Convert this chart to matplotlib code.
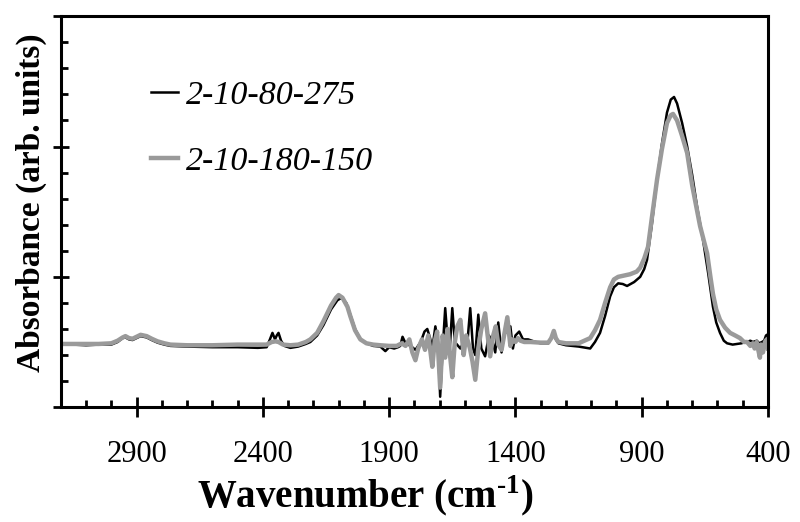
import numpy as np
import matplotlib
matplotlib.use("Agg")
import matplotlib.pyplot as plt
from matplotlib.ticker import MultipleLocator, NullFormatter

# 2-10-80-275 (black) : wavenumber / absorbance
wn_a = [3200, 3150, 3100, 3050, 3000, 2975, 2955, 2944, 2930, 2916, 2900, 2884, 2860, 2840, 2817,
        2790, 2766, 2700, 2600, 2500, 2420, 2385, 2372, 2362, 2352, 2345, 2338, 2328, 2315, 2291,
        2260, 2230, 2212, 2185, 2160, 2130, 2105, 2088, 2070, 2054, 2035, 2014, 1990, 1963, 1935,
        1915, 1900, 1880, 1865, 1856, 1847, 1835, 1815, 1796, 1775, 1760, 1749, 1738, 1729, 1717,
        1707, 1698, 1688, 1678, 1668, 1660, 1650, 1640, 1618, 1600, 1590, 1579, 1568, 1559, 1547,
        1535, 1520, 1505, 1490, 1480, 1468, 1455, 1445, 1432, 1420, 1410, 1400, 1385, 1370, 1350,
        1320, 1300, 1270, 1258, 1248, 1240, 1230, 1200, 1150, 1104, 1085, 1065, 1045, 1025, 1010,
        993, 975, 958, 930, 906, 890, 879, 860, 839, 820, 800, 785, 772, 760, 740,
        720, 700, 681, 657, 637, 618, 605, 590, 575, 562, 540, 523, 505, 490, 483,
        470, 460, 444, 435, 424, 415, 408, 400]
abs_a = [0.48, 0.48, 0.475, 0.48, 0.48, 0.50, 0.53, 0.535, 0.52, 0.515, 0.53, 0.545, 0.535, 0.515, 0.495,
         0.48, 0.47, 0.465, 0.46, 0.46, 0.455, 0.46, 0.52, 0.57, 0.52, 0.55, 0.57, 0.51, 0.47, 0.455,
         0.465, 0.485, 0.50, 0.55, 0.63, 0.75, 0.82, 0.84, 0.80, 0.71, 0.60, 0.52, 0.49, 0.47, 0.465,
         0.43, 0.46, 0.45, 0.46, 0.47, 0.54, 0.49, 0.47, 0.44, 0.50, 0.58, 0.60, 0.53, 0.45, 0.62,
         0.50, 0.08, 0.45, 0.76, 0.50, 0.45, 0.76, 0.50, 0.45, 0.52, 0.50, 0.76, 0.45, 0.40, 0.71,
         0.45, 0.39, 0.55, 0.50, 0.42, 0.65, 0.42, 0.55, 0.60, 0.62, 0.45, 0.55, 0.58, 0.52, 0.52,
         0.50, 0.49, 0.49, 0.53, 0.58, 0.52, 0.49, 0.475, 0.465, 0.45, 0.50, 0.57, 0.70, 0.85, 0.92,
         0.95, 0.945, 0.93, 0.96, 1.0, 1.06, 1.13, 1.40, 1.75, 2.02, 2.26, 2.36, 2.38, 2.33, 2.18,
         2.0, 1.78, 1.54, 1.28, 1.03, 0.77, 0.65, 0.57, 0.51, 0.49, 0.48, 0.485, 0.49, 0.50, 0.50,
         0.51, 0.50, 0.51, 0.49, 0.50, 0.51, 0.55, 0.56]

# 2-10-180-150 (grey)
wn_b = [3200, 3100, 3050, 3000, 2975, 2955, 2944, 2930, 2916, 2900, 2884, 2860, 2840, 2817, 2790,
        2766, 2700, 2600, 2500, 2420, 2385, 2365, 2350, 2338, 2320, 2291, 2260, 2230, 2212, 2185,
        2160, 2130, 2110, 2100, 2085, 2065, 2054, 2035, 2014, 1990, 1963, 1935, 1900, 1870, 1850,
        1835, 1820, 1808, 1796, 1785, 1770, 1758, 1745, 1738, 1729, 1720, 1710, 1698, 1688, 1678,
        1668, 1660, 1650, 1640, 1630, 1618, 1605, 1595, 1580, 1570, 1559, 1547, 1535, 1520, 1510,
        1500, 1488, 1478, 1468, 1455, 1445, 1432, 1420, 1410, 1400, 1390, 1380, 1365, 1340, 1300,
        1270, 1258, 1248, 1240, 1230, 1200, 1150, 1104, 1085, 1065, 1045, 1025, 1010, 993, 970,
        946, 920, 906, 890, 875, 860, 839, 820, 800, 785, 776, 760, 740, 720, 700,
        669, 641, 628, 618, 605, 590, 570, 550, 530, 511, 495, 483, 470, 460, 453,
        445, 432, 428, 420, 412, 405, 400]
abs_b = [0.485, 0.485, 0.485, 0.49, 0.51, 0.535, 0.545, 0.53, 0.525, 0.54, 0.555, 0.545, 0.525, 0.505, 0.49,
         0.48, 0.475, 0.475, 0.48, 0.48, 0.48, 0.50, 0.505, 0.50, 0.48, 0.475, 0.48, 0.50, 0.52, 0.57,
         0.66, 0.78, 0.84, 0.86, 0.84, 0.77, 0.70, 0.59, 0.52, 0.49, 0.48, 0.475, 0.47, 0.47, 0.49,
         0.47, 0.52, 0.42, 0.36, 0.45, 0.52, 0.44, 0.55, 0.45, 0.31, 0.50, 0.58, 0.15, 0.55, 0.38,
         0.60, 0.42, 0.23, 0.50, 0.62, 0.67, 0.40, 0.55, 0.45, 0.35, 0.21, 0.45, 0.60, 0.72, 0.55,
         0.39, 0.55, 0.62, 0.48, 0.44, 0.55, 0.69, 0.47, 0.52, 0.50, 0.53, 0.51, 0.50, 0.50, 0.495,
         0.495, 0.53, 0.585, 0.53, 0.50, 0.49, 0.49, 0.53, 0.59, 0.67, 0.80, 0.92, 0.98, 1.0, 1.01,
         1.02, 1.04, 1.07, 1.14, 1.23, 1.45, 1.75, 1.98, 2.18, 2.24, 2.25, 2.20, 2.08, 1.95, 1.70,
         1.39, 1.18, 1.0, 0.87, 0.75, 0.67, 0.61, 0.57, 0.55, 0.53, 0.50, 0.50, 0.47, 0.49, 0.45,
         0.50, 0.38, 0.48, 0.42, 0.50, 0.52, 0.45]

labels = ["2-10-80-275", "2-10-180-150"]
xticks = [2900, 2400, 1900, 1400, 900, 400]

plt.rcParams['font.family'] = ['Liberation Serif', 'DejaVu Serif']
plt.rcParams['mathtext.fontset'] = 'custom'
plt.rcParams['mathtext.rm'] = 'Liberation Serif:bold'
plt.rcParams['mathtext.bf'] = 'Liberation Serif:bold'

fig = plt.figure(figsize=(8, 5.22), dpi=100)
ax = fig.add_axes([0.076, 0.22, 0.884, 0.749])

ax.plot(wn_b, abs_b, color='#9a9a9a', lw=3.2, label=labels[1], zorder=2)
ax.plot(wn_a, abs_a, color='black', lw=1.8, label=labels[0], zorder=1)

ax.set_xlim(3200, 400)
ax.set_ylim(0, 3.0)
ax.set_xticks(xticks)
ax.xaxis.set_minor_locator(MultipleLocator(100))
ax.yaxis.set_major_locator(MultipleLocator(1.0))
ax.yaxis.set_minor_locator(MultipleLocator(0.2))
ax.yaxis.set_major_formatter(NullFormatter())

for s in ax.spines.values():
    s.set_linewidth(2.2)
ax.tick_params(which='major', direction='inout', length=14, width=2, labelsize=22, pad=17)
ax.tick_params(which='minor', direction='in', length=5, width=2)
ax.tick_params(axis='y', which='major', length=11)

# hyphen (not a minus sign) in the superscript, as in the original
ax.set_xlabel(r"Wavenumber (cm$^{\text{-}\mathbf{1}}$)", fontsize=28, fontweight='bold', va='top')
ax.xaxis.set_label_coords(0.43, -0.17)
ax.set_ylabel("Absorbance (arb. units)", fontsize=24, fontweight='bold')
ax.yaxis.set_label_coords(-0.02, 0.524)

h, l = ax.get_legend_handles_labels()
leg = ax.legend(h[::-1], l[::-1], loc='upper left', bbox_to_anchor=(0.084, 0.915), frameon=False,
                handlelength=0.8, handletextpad=0.24, labelspacing=1.05,
                prop={'family': 'Liberation Serif', 'style': 'italic', 'size': 24.5})

plt.savefig('out.png', dpi=100)
